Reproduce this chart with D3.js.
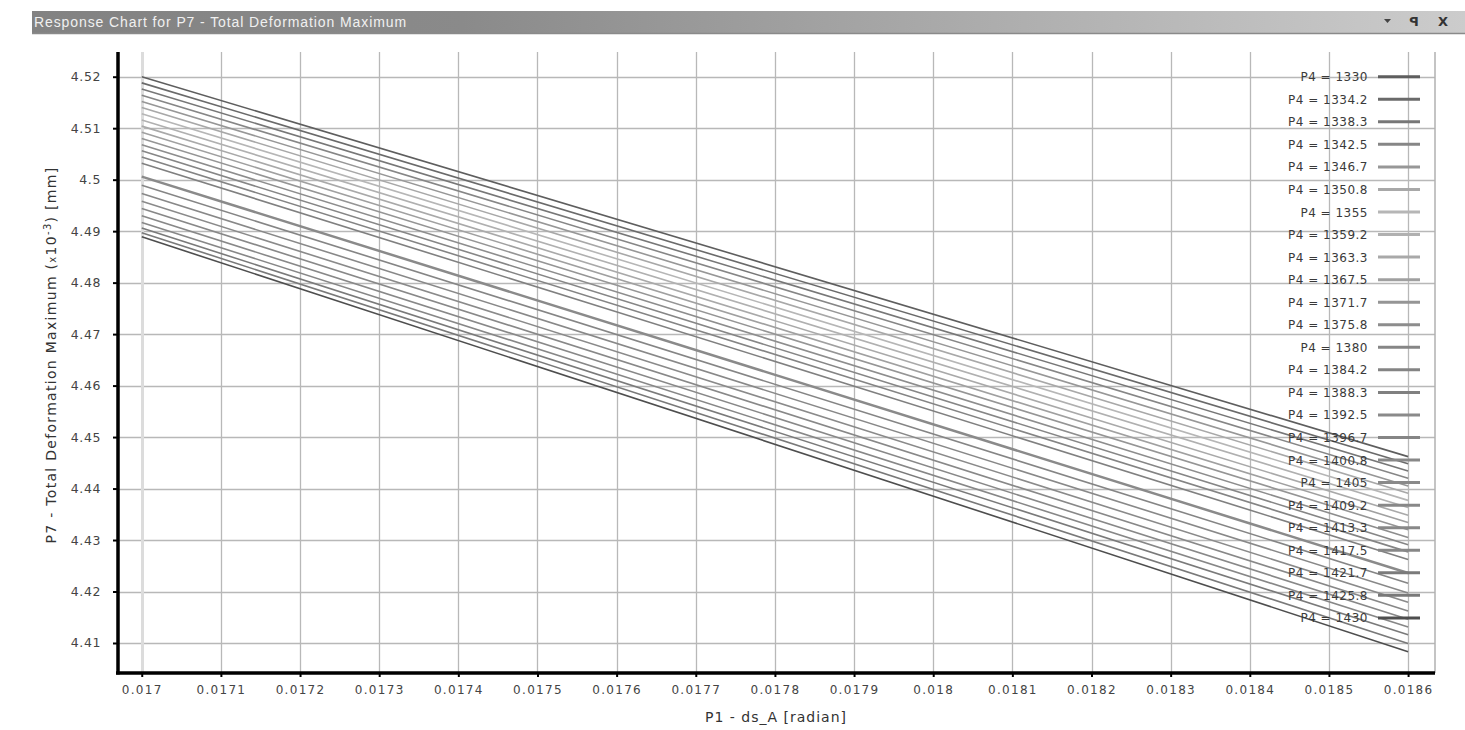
<!DOCTYPE html>
<html><head><meta charset="utf-8">
<script src="https://cdn.jsdelivr.net/npm/d3@7"></script>
<style>body{margin:0;background:#fff;}svg{display:block;font-family:"DejaVu Sans",sans-serif;}</style>
</head><body><svg id="c" width="1465" height="730"></svg>
<script>
// ---- data ----
const p4Values = [1330, 1334.2, 1338.3, 1342.5, 1346.7, 1350.8, 1355, 1359.2, 1363.3, 1367.5, 1371.7, 1375.8, 1380, 1384.2, 1388.3, 1392.5, 1396.7, 1400.8, 1405, 1409.2, 1413.3, 1417.5, 1421.7, 1425.8, 1430];
const p1Values = [0.017, 0.0186];
const deformAtStart = [4.5200, 4.5188, 4.5176, 4.5164, 4.5152, 4.5140, 4.5128, 4.5116, 4.5104, 4.5092, 4.5080, 4.5068, 4.5056, 4.5044, 4.5032, 4.5006, 4.4989, 4.4973, 4.4958, 4.4944, 4.4930, 4.4917, 4.4906, 4.4897, 4.4889];
const deformAtEnd   = [4.4462, 4.4448, 4.4434, 4.4420, 4.4405, 4.4391, 4.4377, 4.4363, 4.4348, 4.4334, 4.4320, 4.4305, 4.4291, 4.4277, 4.4262, 4.4236, 4.4216, 4.4197, 4.4179, 4.4162, 4.4146, 4.4131, 4.4116, 4.4099, 4.4083];
const seriesGray = ["#5e5e5e", "#6a6a6a", "#777777", "#868686", "#979797", "#a8a8a8", "#b6b6b6", "#b0b0b0", "#a9a9a9", "#a0a0a0", "#959595", "#8d8d8d", "#868686", "#848484", "#808080", "#8a8a8a", "#858585", "#888888", "#8a8a8a", "#888888", "#888888", "#878787", "#7a7a7a", "#797979", "#4e4e4e"];
const xTicks = [0.017, 0.0171, 0.0172, 0.0173, 0.0174, 0.0175, 0.0176, 0.0177, 0.0178, 0.0179, 0.018, 0.0181, 0.0182, 0.0183, 0.0184, 0.0185, 0.0186];
const xTickLabels = ["0.017", "0.0171", "0.0172", "0.0173", "0.0174", "0.0175", "0.0176", "0.0177", "0.0178", "0.0179", "0.018", "0.0181", "0.0182", "0.0183", "0.0184", "0.0185", "0.0186"];
const yTicks = [4.41, 4.42, 4.43, 4.44, 4.45, 4.46, 4.47, 4.48, 4.49, 4.5, 4.51, 4.52];
const yTickLabels = ["4.41", "4.42", "4.43", "4.44", "4.45", "4.46", "4.47", "4.48", "4.49", "4.5", "4.51", "4.52"];
const titleText = "Response Chart for P7 - Total Deformation Maximum";
const xAxisTitle = "P1 - ds_A [radian]";

// ---- layout ----
const L = 118, R = 1435, T = 52, B = 673;
const svg = d3.select("#c");
const x = d3.scaleLinear().domain([0.01697, 0.018634]).range([L, R]);
const y = d3.scaleLinear().domain([4.40417, 4.5248]).range([B, T]);

// title bar
const defs = svg.append("defs");
const g1 = defs.append("linearGradient").attr("id", "tb").attr("x1", 0).attr("x2", 1).attr("y1", 0).attr("y2", 0);
g1.append("stop").attr("offset", "0").attr("stop-color", "#828282");
g1.append("stop").attr("offset", "0.3").attr("stop-color", "#8a8a8a");
g1.append("stop").attr("offset", "1").attr("stop-color", "#cccccc");
svg.append("rect").attr("x", 32).attr("y", 11).attr("width", 1433).attr("height", 22).attr("fill", "url(#tb)");
svg.append("line").attr("x1", 32).attr("x2", 1465).attr("y1", 33.5).attr("y2", 33.5).attr("stroke", "#8a8a8a").attr("stroke-width", 1.5);
svg.append("text").attr("x", 34).attr("y", 26.5).attr("fill", "#f0f0f0").attr("font-size", 14).attr("letter-spacing", 0.9)
  .attr("font-family", "'Liberation Sans',sans-serif").text(titleText);
svg.append("path").attr("d", "M1384,19 L1391,19 L1387.5,23 Z").attr("fill", "#444");
svg.append("text").attr("x", 1414).attr("y", 26).attr("text-anchor", "middle").attr("font-size", 13).attr("font-weight", "bold").attr("fill", "#333").text("ꟼ");
svg.append("text").attr("x", 1443).attr("y", 26).attr("text-anchor", "middle").attr("font-size", 13).attr("font-weight", "bold").attr("fill", "#333").text("X");

// gridlines
const grid = svg.append("g");
grid.selectAll(".hg").data(yTicks).join("line")
  .attr("x1", L).attr("x2", R).attr("y1", d => Math.round(y(d)) + 0.5).attr("y2", d => Math.round(y(d)) + 0.5)
  .attr("stroke", "#b8b8b8").attr("stroke-width", 1.3);
grid.selectAll(".vg").data(xTicks).join("line")
  .attr("x1", d => Math.round(x(d)) + 0.5).attr("x2", d => Math.round(x(d)) + 0.5).attr("y1", T).attr("y2", B)
  .attr("stroke", (d, i) => i === 0 ? "#dcdcdc" : "#b8b8b8").attr("stroke-width", (d, i) => i === 0 ? 3 : 1.3);
svg.append("line").attr("x1", R).attr("x2", R).attr("y1", T).attr("y2", B).attr("stroke", "#b0b0b0").attr("stroke-width", 1.5);

// series lines
const series = p4Values.map((p, i) => ({p4: p, color: seriesGray[i], pts: [[p1Values[0], deformAtStart[i]], [p1Values[1], deformAtEnd[i]]]}));
const line = d3.line().x(d => x(d[0])).y(d => y(d[1]));
svg.append("g").selectAll("path").data(series).join("path")
  .attr("d", d => line(d.pts)).attr("fill", "none")
  .attr("stroke", d => d.color).attr("stroke-width", (d, i) => i === 15 ? 2.5 : 1.6);

// legend
const lg = svg.append("g");
const rowH = 22.55, row0 = 76.7;
series.forEach((s, i) => {
  const yy = row0 + i * rowH;
  lg.append("text").attr("x", 1368).attr("y", yy + 4.5).attr("text-anchor", "end").attr("font-size", 12)
    .attr("fill", "#3a3a3a").attr("letter-spacing", 0.5).text("P4 = " + s.p4);
  lg.append("line").attr("x1", 1378).attr("x2", 1420).attr("y1", yy).attr("y2", yy)
    .attr("stroke", s.color).attr("stroke-width", 3);
});

// axes
const ax = svg.append("g").attr("transform", `translate(0,${B})`)
  .call(d3.axisBottom(x).tickValues(xTicks).tickFormat((d, i) => xTickLabels[i]).tickSize(4).tickPadding(8));
ax.select(".domain").remove();
ax.selectAll(".tick line").attr("stroke", "#000").attr("stroke-width", 2);
ax.selectAll(".tick text").attr("font-size", 12).attr("fill", "#444").attr("letter-spacing", 1.3).attr("font-family", "'DejaVu Sans',sans-serif");
const ay = svg.append("g").attr("transform", `translate(${L},0)`)
  .call(d3.axisLeft(y).tickValues(yTicks).tickFormat((d, i) => yTickLabels[i]).tickSize(5).tickPadding(12));
ay.select(".domain").remove();
ay.selectAll(".tick line").attr("stroke", "#000").attr("stroke-width", 2);
ay.selectAll(".tick text").attr("font-size", 12.5).attr("fill", "#444").attr("letter-spacing", 0.6).attr("font-family", "'DejaVu Sans',sans-serif");
svg.append("line").attr("x1", L).attr("x2", L).attr("y1", T).attr("y2", B + 1.5).attr("stroke", "#000").attr("stroke-width", 3.5);
svg.append("line").attr("x1", L - 2).attr("x2", R).attr("y1", B).attr("y2", B).attr("stroke", "#000").attr("stroke-width", 3.5);

// axis titles
svg.append("text").attr("x", 776).attr("y", 722).attr("text-anchor", "middle").attr("font-size", 14)
  .attr("fill", "#333").attr("letter-spacing", 1).text(xAxisTitle);
const yt = svg.append("text").attr("transform", "translate(56,355) rotate(-90)").attr("text-anchor", "middle")
  .attr("font-size", 14).attr("fill", "#333").attr("letter-spacing", 1.3);
yt.append("tspan").text("P7 - Total Deformation Maximum  (");
yt.append("tspan").attr("font-size", 10).text("x");
yt.append("tspan").text("10");
yt.append("tspan").attr("font-size", 10).attr("dy", -5).text("-3");
yt.append("tspan").attr("dy", 5).text(")  [mm]");
</script></body></html>
